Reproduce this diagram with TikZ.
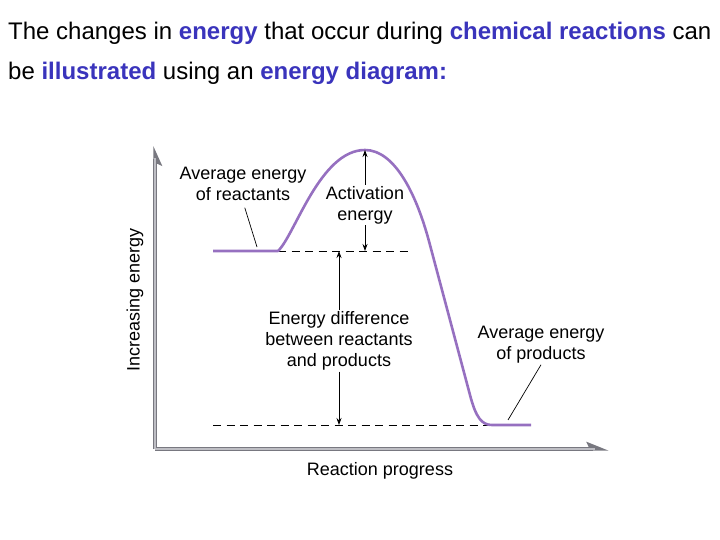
\documentclass[tikz,border=0pt]{standalone}
\usepackage{fontspec}
\setmainfont{Liberation Sans}
\usetikzlibrary{arrows.meta, positioning}
\definecolor{keyblue}{RGB}{58,52,188}
\definecolor{curvepurple}{RGB}{150,112,192}
\definecolor{axisgray}{RGB}{120,120,128}
\definecolor{axisfill}{RGB}{190,190,196}
\newcommand{\kw}[1]{\textcolor{keyblue}{\textbf{#1}}}
\tikzset{
  lbl/.style={align=center, inner sep=1pt, font=\fontsize{18}{21}\selectfont},
  head/.style={anchor=base west, inner sep=0pt, font=\fontsize{24}{28}\selectfont},
  axis/.style={line width=3.4pt, color=axisgray,
               -{Stealth[harpoon, swap, length=16pt, width=14pt, inset=3pt, fill=axisfill]}},
  axisin/.style={line width=1.4pt, color=axisfill},
  curve/.style={line width=2.6pt, color=curvepurple, line join=round},
  dim/.style={-{Stealth[length=7pt, width=5pt]}, line width=0.8pt},
  guide/.style={line width=0.8pt, dash pattern=on 8pt off 5.5pt},
  lead/.style={line width=0.7pt}
}

\begin{document}
\begin{tikzpicture}[x=1pt, y=-1pt]
  \useasboundingbox (0,0) rectangle (720,540);

  \node[head] (line1) at (8,40) {The changes in \kw{energy} that occur during \kw{chemical reactions} can};
  \node[head] (line2) at (8,80) {be \kw{illustrated} using an \kw{energy diagram:}};

  % axes
  \coordinate (orig)  at (155,449);
  \coordinate (ytop)  at (155,146);
  \coordinate (xend)  at (609,449);
  \draw[axis] (orig) -- (ytop);
  \draw[axis, -{Stealth[harpoon, length=18pt, width=14pt, inset=3pt, fill=axisfill]}] (orig) -- (xend);
  \draw[axisin] (orig) -- ([yshift=-12pt]ytop);
  \draw[axisin] (orig) -- ([xshift=-14pt]xend);
  \node[lbl, rotate=90] (ylab) at (135,300) {Increasing energy};
  \node[lbl] (xlab) at (380,471) {Reaction progress};

  % energy levels
  \coordinate (r0)   at (213,251);
  \coordinate (r1)   at (278,251);
  \coordinate (peak) at (365,150);
  \coordinate (p0)   at (492,425);
  \coordinate (p1)   at (531,425);
  \coordinate (rtop) at (412,251);
  \coordinate (pend) at (213,425);

  \draw[guide] (r1) -- (rtop);
  \draw[guide] (pend) -- (p0);
  \draw[curve] (r0) -- (r1)
    .. controls (295,235) and (320,150) .. (peak)
    .. controls (395,150) and (417,195) .. (430,245)
    -- (470,395)
    .. controls (476,418) and (482,425) .. (p0) -- (p1);

  % labels
  \node[lbl] (reac) at (243,184) {Average energy\\of reactants};
  \node[lbl] (act)  at (365,205) {Activation\\energy};
  \node[lbl] (diff) at (339,341) {Energy difference\\between reactants\\and products};
  \node[lbl] (prod) at (541,345) {Average energy\\of products};

  \coordinate (ra) at (365,251);
  \coordinate (da) at (339,251);
  \coordinate (db) at (339,425);
  \coordinate (rtip) at (257,247);
  \coordinate (ptip) at (508,420);

  \draw[dim] (act) -- (peak);
  \draw[dim] (act) -- (ra);
  \draw[dim] (diff) -- (da);
  \draw[dim] (diff) -- (db);
  \draw[lead, shorten <=6pt] (reac.south) -- (rtip);
  \draw[lead] (prod.south) -- (ptip);
\end{tikzpicture}
\end{document}
